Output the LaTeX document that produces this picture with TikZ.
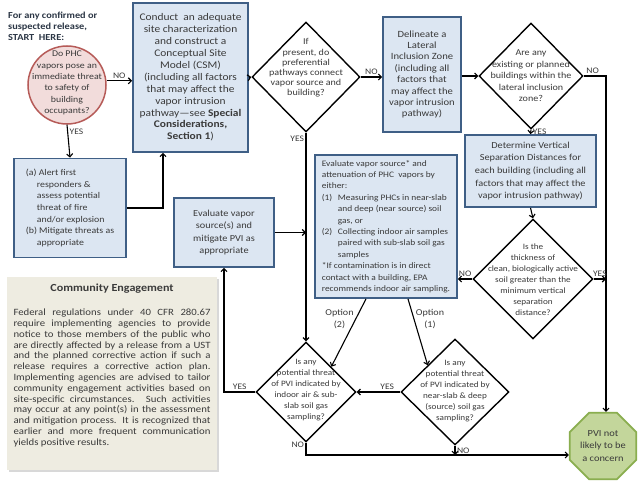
\documentclass[tikz,border=0pt]{standalone}
\usepackage{fontspec}
\setmainfont[FakeStretch=1.12]{Carlito}
\usepackage{tikz}
\usetikzlibrary{arrows.meta,shapes.geometric,shadows,calc}
\definecolor{boxfill}{HTML}{DCE6F2}
\definecolor{boxline}{HTML}{3F5F86}
\definecolor{circfill}{HTML}{F2DCDB}
\definecolor{circline}{HTML}{B65B58}
\definecolor{octfill}{HTML}{C3D69B}
\definecolor{octline}{HTML}{8AAE4F}
\definecolor{notefill}{HTML}{EEECE1}
\definecolor{txt}{HTML}{3A3A3A}
\definecolor{hdr}{HTML}{2B3645}

\begin{document}
\begin{tikzpicture}[x=1pt, y=-1pt,
  >={Straight Barb[length=3pt,width=6pt]},
  every node/.style={text=txt},
  box/.style={draw=boxline, fill=boxfill, line width=1.8pt, align=center, inner sep=2pt},
  dia/.style={diamond, draw=black, line width=1.4pt, fill=white, inner sep=0pt},
  qtext/.style={align=center, inner sep=0pt},
  flow/.style={->, line width=1.1pt, black},
  lbl/.style={font=\fontsize{8.5}{10}\selectfont, inner sep=1.5pt}]
\useasboundingbox (0,0) rectangle (640,484);
\fill [white] (0,0) rectangle (640,484);
% Start
\node [font=\bfseries\fontsize{9.2}{11}\selectfont, align=left, anchor=west, text=hdr, inner sep=0pt] (start) at (8,26) {For any confirmed or\\suspected release,\\START\ \ HERE:};
\node [circle, draw=circline, fill=circfill, line width=1.5pt, minimum size=78pt, inner sep=0pt] (threat) at (67,85) {};
\node [qtext, font=\fontsize{8.8}{11.4}\selectfont] (threattext) at (67,83) {Do PHC\\vapors pose an\\immediate threat\\to safety of\\building\\occupants?};
\node [box, minimum width=112pt, minimum height=99pt, align=left, font=\fontsize{8.8}{11.7}\selectfont] (alert) at (70,208) {(a) Alert first\\\hspace*{11pt}responders \&\\\hspace*{11pt}assess potential\\\hspace*{11pt}threat of fire\\\hspace*{11pt}and/or explosion\\(b) Mitigate threats as\\\hspace*{11pt}appropriate};
% Top row
\node [box, minimum width=115pt, minimum height=149pt, font=\fontsize{10.2}{11.9}\selectfont] (conduct) at (190.5,77.5) {Conduct\ \ an adequate\\site characterization\\and construct a\\Conceptual Site\\Model (CSM)\\(including all factors\\that may affect the\\vapor intrusion\\pathway—see \textbf{Special}\\\textbf{Considerations,}\\\textbf{Section 1})};
\node [dia, minimum width=108pt, minimum height=110pt] (paths) at (306,77) {};
\node [qtext, font=\fontsize{9}{10.2}\selectfont] (pathstext) at (306,68) {If\\present, do\\preferential\\pathways connect\\vapor source and\\building?};
\node [box, minimum width=78pt, minimum height=115pt, font=\fontsize{9.5}{11.4}\selectfont] (zone) at (422,74.5) {Delineate a\\Lateral\\Inclusion Zone\\(including all\\factors that\\may affect the\\vapor intrusion\\pathway)};
\node [dia, minimum width=104pt, minimum height=106pt] (bldg) at (531,76) {};
\node [qtext, font=\fontsize{9}{11.5}\selectfont] (bldgtext) at (531,76) {Are any\\existing or planned\\buildings within the\\lateral inclusion\\zone?};
% Middle row
\node [box, minimum width=131pt, minimum height=72pt, font=\fontsize{9.2}{12.7}\selectfont] (vertical) at (530.5,171) {Determine Vertical\\Separation Distances for\\each building (including all\\factors that may affect the\\vapor intrusion pathway)};
\node [dia, minimum width=120pt, minimum height=120pt] (soil) at (533,279) {};
\node [qtext, font=\fontsize{8.2}{11}\selectfont] (soiltext) at (533,280) {Is the\\thickness of\\clean, biologically active\\soil greater than the\\minimum vertical\\separation\\distance?};
\node [box, minimum width=142pt, minimum height=143pt, align=left, font=\fontsize{8.4}{11.4}\selectfont] (evalsrc) at (386,226.5) {Evaluate vapor source* and\\attenuation of PHC\ \ vapors by\\either:\\\makebox[16pt][l]{(1)}Measuring PHCs in near-slab\\\hspace*{16pt}and deep (near source) soil\\\hspace*{16pt}gas, or\\\makebox[16pt][l]{(2)}Collecting indoor air samples\\\hspace*{16pt}paired with sub-slab soil gas\\\hspace*{16pt}samples\\*If contamination is in direct\\contact with a building, EPA\\recommends indoor air sampling.};
\node [box, minimum width=100pt, minimum height=69pt, font=\fontsize{9.2}{12.3}\selectfont] (mitigate) at (224,232.5) {Evaluate vapor\\source(s) and\\mitigate PVI as\\appropriate};
% Bottom row
\node [dia, minimum width=100pt, minimum height=100pt] (indoor) at (306,392) {};
\node [qtext, font=\fontsize{8.2}{11}\selectfont] (indoortext) at (306,390.5) {Is any\\potential threat\\of PVI indicated by\\indoor air \& sub-\\slab soil gas\\sampling?};
\node [dia, minimum width=108pt, minimum height=106pt] (nearslab) at (455,392) {};
\node [qtext, font=\fontsize{8.2}{11}\selectfont] (nearslabtext) at (455,391) {Is any\\potential threat\\of PVI indicated by\\near-slab \& deep\\(source) soil gas\\sampling?};
\node [regular polygon, regular polygon sides=8, draw=octline, fill=octfill, line width=1.8pt, minimum size=72pt, inner sep=0pt] (pvi) at (603,446) {};
\node [qtext, font=\fontsize{9.3}{12.8}\selectfont] (pvitext) at (603,446) {PVI not\\likely to be\\a concern};
% Community engagement
\node [fill=notefill, minimum width=210pt, minimum height=193pt, drop shadow={shadow xshift=2pt, shadow yshift=-2pt, opacity=0.3}] (note) at (112,373.5) {};
\node [font=\bfseries\fontsize{10.8}{13}\selectfont] (notetitle) at (112,289) {Community Engagement};
\node [text width=197pt, align=justify, inner sep=0pt, font=\fontsize{9.6}{10.8}\selectfont] (notebody) at (112,378) {\tolerance=10000 Federal regulations under 40 CFR 280.67\linebreak require implementing agencies to provide\linebreak notice to those members of the public who\linebreak are directly affected by a release from a UST\linebreak and the planned corrective action if such a\linebreak release requires a corrective action plan.\linebreak Implementing agencies are advised to tailor\linebreak community engagement activities based on\linebreak site-specific circumstances. Such activities\linebreak may occur at any point(s) in the assessment\linebreak and mitigation process. It is recognized that\linebreak earlier and more frequent communication\linebreak yields positive results.};
% Arrows
\coordinate (join) at (163,0);
\coordinate (rightline) at (606,0);
\coordinate (bottom) at (0,455);
\draw [flow] (threat.6) -- (threat.6 -| conduct.west) node [lbl, midway, above] {NO};
\draw [flow] (threat.south) -- (alert.north) node [lbl, pos=0.2, right] {YES};
\draw [flow] (alert.east) -| (join |- conduct.south);
\draw [flow] (conduct.east) -- (paths.west);
\draw [flow] (paths.east) -- (paths.east -| zone.west) node [lbl, midway, above] {NO};
\draw [flow] (paths.south) -- (indoor.north) node [lbl, pos=0.03, left] {YES};
\draw [flow] (bldg.west -| zone.east) -- (bldg.west);
\draw [flow] (bldg.east) -| (rightline |- pvi.north) node [lbl, pos=0.2, above] {NO};
\draw [flow] (bldg.south) -- (vertical.north) node [lbl, midway, right] {YES};
\draw [flow] (vertical.south) -- (soil.north);
\draw [flow] (soil.west) -- (soil.west -| evalsrc.east) node [lbl, midway, above] {NO};
\draw [flow] (soil.east) -- (soil.east -| rightline) node [lbl, midway, above] {YES};
\draw [flow] (mitigate.east) -- (mitigate.east -| paths.south);
\draw [flow] ($(evalsrc.south)+(-20,0)$) -- (indoor.north east) node [lbl, pos=0.3, left, align=center, font=\fontsize{9}{12}\selectfont] {Option\\(2)};
\draw [flow] ($(evalsrc.south)+(22,0)$) -- (nearslab.north west) node [lbl, pos=0.3, right, align=center, font=\fontsize{9}{12}\selectfont] {Option\\(1)};
\draw [flow] (nearslab.west) -- (indoor.east) node [lbl, pos=0.3, above] {YES};
\draw [flow] (indoor.west) -| (mitigate.south) node [lbl, pos=0.25, above] {YES};
\draw [flow] (indoor.south) |- (pvi.west |- bottom) node [lbl, pos=0.1, left] {NO};
\draw [flow] (nearslab.south) -- (nearslab.south |- bottom) node [lbl, midway, right] {NO};
\end{tikzpicture}
\end{document}
